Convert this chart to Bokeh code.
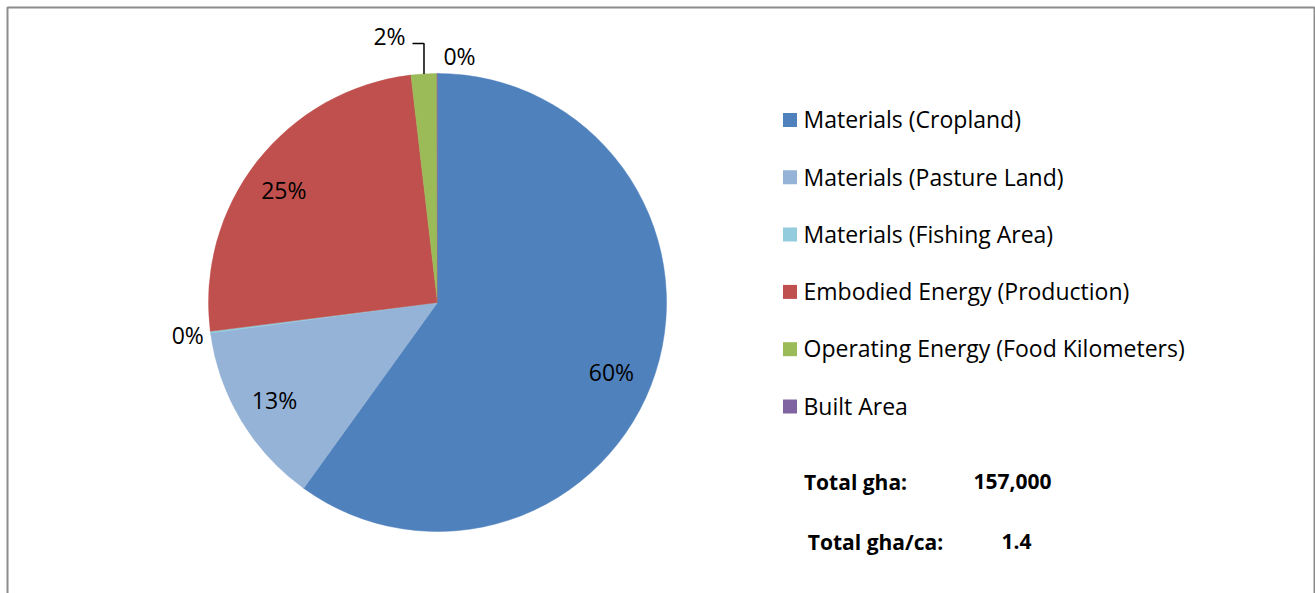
import math
from bokeh.plotting import figure
from bokeh.models import Range1d, ColumnDataSource
from bokeh.core.properties import value
from bokeh.embed import file_html
from bokeh.resources import INLINE

# ---------------- data ----------------
categories = [
    "Materials (Cropland)",
    "Materials (Pasture Land)",
    "Materials (Fishing Area)",
    "Embodied Energy (Production)",
    "Operating Energy (Food Kilometers)",
    "Built Area",
]
values_gha = [94100, 20300, 200, 39500, 2850, 50]
colors = ["#4F81BD", "#95B3D7", "#93CDDD", "#C0504D", "#9BBB59", "#8064A2"]
total_labels = ["Total gha:", "Total gha/ca:"]
total_values = ["157,000", "1.4"]

# ---------------- layout ----------------
W, H = 1315, 593
FONT = "Open Sans"
TXT_UP = 8  # renderer baseline correction (px)


def px(x):
    return x


def py(y):
    return H - y


p = figure(width=W, height=H, x_range=Range1d(0, W), y_range=Range1d(0, H),
           output_backend="svg", toolbar_location=None, min_border=0)
p.axis.visible = False
p.grid.visible = False
p.outline_line_color = None
p.background_fill_color = "white"
p.border_fill_color = "white"

# chart-area frame (left, top, right; bottom edge lies outside the window)
p.line(x=[px(7), px(7), px(1314), px(1314)], y=[py(620), py(7), py(7), py(620)],
       line_color="#8c8c8c", line_width=2)

cx, cy, R = px(437), py(302), 229
n = len(values_gha)
total = sum(values_gha)
fracs = [v / total for v in values_gha]
cum = [0.0]
for f in fracs:
    cum.append(cum[-1] + f)
start = [math.pi / 2 - 2 * math.pi * cum[i + 1] for i in range(n)]
end = [math.pi / 2 - 2 * math.pi * cum[i] for i in range(n)]

src = ColumnDataSource(dict(start=start, end=end, color=colors, cat=categories))
p.wedge(x=cx, y=cy, radius=R, start_angle="start", end_angle="end",
        fill_color="color", line_color="color", line_width=0.5, source=src)

# ---------------- percentage labels ----------------
pct = [f"{round(f * 100)}%" for f in fracs]
mode = ["in", "in", "out", "in", "callout", "callout"]
nudge = {0: (-7, 11), 3: (-4, 5)}            # pixel nudges (right, down)
callout_pos = {4: (-48, -267), 5: (22, -247)}  # text centre relative to pie centre (px)
lx, ly = [], []
for i in range(n):
    mid = 2 * math.pi * (cum[i] + cum[i + 1]) / 2
    if mode[i] == "callout":
        dx, dd = callout_pos[i]
    else:
        k = 0.83 if mode[i] == "in" else 1.1
        dx = k * R * math.sin(mid)
        dd = -k * R * math.cos(mid)
        ndx, ndd = nudge.get(i, (0, 0))
        dx += ndx
        dd += ndd
    lx.append(cx + dx)
    ly.append(cy - dd - 8 + TXT_UP)  # baseline = centre + half cap height
p.text(x=lx, y=ly, text=pct, text_font=value(FONT), text_font_size="23px",
       text_align="center", text_baseline="alphabetic", text_color="#000000")

# leader line for the operating-energy callout
mid4 = 2 * math.pi * (cum[4] + cum[5]) / 2
ax = cx + R * math.sin(mid4)
ay = cy + R * math.cos(mid4)
p.line(x=[ax, ax, px(412)], y=[ay, py(43), py(43)], line_color="#000000", line_width=1.5)

# ---------------- legend ----------------
leg_y0, leg_dy = 119.5, 57.3
leg_cy = [py(leg_y0 + i * leg_dy) for i in range(n)]
p.rect(x=[px(789.5)] * n, y=leg_cy, width=14, height=14, fill_color=colors, line_color=None)
p.text(x=[px(803)] * n, y=[c - 7.2 + TXT_UP for c in leg_cy], text=categories, text_font=value(FONT),
       text_font_size="23px", text_align="left", text_baseline="alphabetic", text_color="#000000")

# ---------------- totals ----------------
tot_base = [py(489.3) + TXT_UP, py(549.3) + TXT_UP]
p.text(x=[px(855), px(875)], y=tot_base, text=total_labels, text_font=value(FONT),
       text_font_size="21px", text_font_style="bold", text_align="center",
       text_baseline="alphabetic", text_color="#000000")
p.text(x=[px(1012), px(1016)], y=tot_base, text=total_values, text_font=value(FONT),
       text_font_size="21px", text_font_style="bold", text_align="center",
       text_baseline="alphabetic", text_color="#000000")

open("out.html", "w").write(file_html(p, INLINE))
